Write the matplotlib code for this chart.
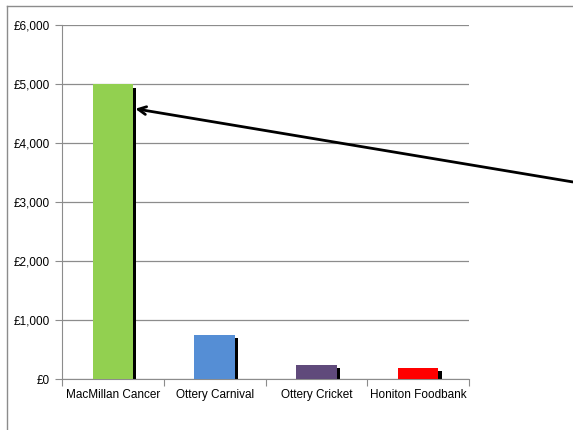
import matplotlib.pyplot as plt
from matplotlib.lines import Line2D
from matplotlib.ticker import FuncFormatter

charities = ["MacMillan Cancer", "Ottery Carnival", "Ottery Cricket", "Honiton Foodbank"]
raised = [5000, 750, 240, 190]
colours = ["#92d050", "#558ed5", "#604a7b", "#ff0000"]

plt.rcParams['font.family'] = ['Liberation Sans', 'DejaVu Sans']

fig = plt.figure(figsize=(5.73, 4.30), dpi=100)
ax = fig.add_axes([62/573, 1 - 379/430, 407/573, 354/430])

x = range(len(charities))
# black drop shadow, slightly right and down
ax.bar([i + 0.03 for i in x], raised, width=0.4, bottom=-60, color="black", zorder=2)
ax.bar(x, raised, width=0.4, color=colours, zorder=3)

ax.set_xlim(-0.5, 3.5)
ax.set_ylim(0, 6000)
ax.set_yticks(range(0, 7000, 1000))
ax.yaxis.set_major_formatter(FuncFormatter(lambda v, p: "£{:,.0f}".format(v)))
ax.yaxis.grid(True, color="#8c8c8c", linewidth=0.9, zorder=0)
ax.set_axisbelow(True)

ax.set_xticks([-0.5, 0.5, 1.5, 2.5, 3.5])
ax.set_xticklabels([])
ax.set_xticks(list(x), minor=True)
ax.set_xticklabels(charities, minor=True)
ax.tick_params(axis="x", which="minor", length=0, pad=7, labelsize=8.5)
ax.tick_params(axis="x", which="major", length=5, color="#8c8c8c", direction="out")
ax.tick_params(axis="y", length=5, color="#8c8c8c", labelsize=8.5, pad=4)

for s in ["top", "right"]:
    ax.spines[s].set_visible(False)
for s in ["left", "bottom"]:
    ax.spines[s].set_color("#8c8c8c")

ax.annotate("", xy=(0.22, 4580), xytext=(4.52, 3340), xycoords="data",
            arrowprops=dict(arrowstyle="->", color="black", lw=2, mutation_scale=14,
                            shrinkA=0, shrinkB=0),
            annotation_clip=False)

# outer chart frame
fig.add_artist(Line2D([7/573, 7/573], [0, 1 - 6/430], color="#8c8c8c", lw=1))
fig.add_artist(Line2D([7/573, 1], [1 - 6/430, 1 - 6/430], color="#8c8c8c", lw=1))

fig.savefig("out.png", dpi=100)
